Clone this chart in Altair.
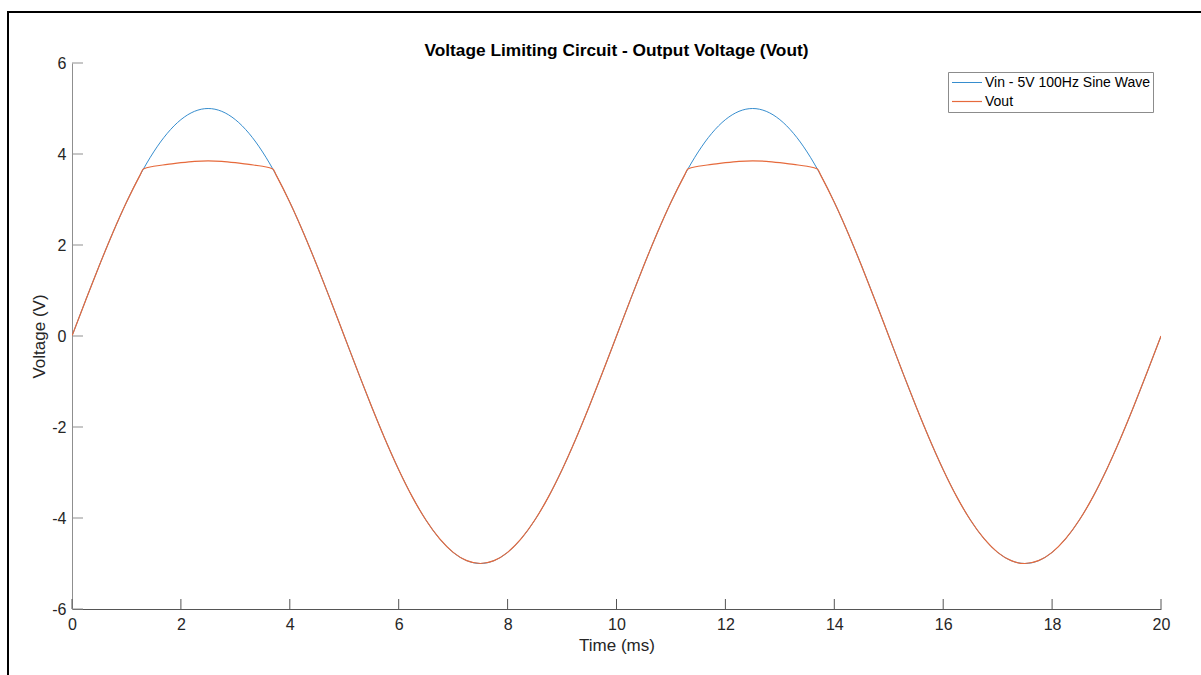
import altair as alt
import pandas as pd

# ---- data ----
vin_time = [0, 0.25, 0.5, 0.75, 1, 1.25, 1.5, 1.75, 2, 2.25, 2.5, 2.75, 3, 3.25, 3.5, 3.75,
            4, 4.25, 4.5, 4.75, 5, 5.25, 5.5, 5.75, 6, 6.25, 6.5, 6.75, 7, 7.25, 7.5, 7.75,
            8, 8.25, 8.5, 8.75, 9, 9.25, 9.5, 9.75, 10, 10.25, 10.5, 10.75, 11, 11.25, 11.5,
            11.75, 12, 12.25, 12.5, 12.75, 13, 13.25, 13.5, 13.75, 14, 14.25, 14.5, 14.75,
            15, 15.25, 15.5, 15.75, 16, 16.25, 16.5, 16.75, 17, 17.25, 17.5, 17.75, 18,
            18.25, 18.5, 18.75, 19, 19.25, 19.5, 19.75, 20]
vin_values = [0, 0.782, 1.545, 2.270, 2.939, 3.536, 4.045, 4.455, 4.755, 4.938, 5.0, 4.938,
              4.755, 4.455, 4.045, 3.536, 2.939, 2.270, 1.545, 0.782, 0, -0.782, -1.545,
              -2.270, -2.939, -3.536, -4.045, -4.455, -4.755, -4.938, -5.0, -4.938, -4.755,
              -4.455, -4.045, -3.536, -2.939, -2.270, -1.545, -0.782, 0,
              0.782, 1.545, 2.270, 2.939, 3.536, 4.045, 4.455, 4.755, 4.938, 5.0, 4.938,
              4.755, 4.455, 4.045, 3.536, 2.939, 2.270, 1.545, 0.782, 0, -0.782, -1.545,
              -2.270, -2.939, -3.536, -4.045, -4.455, -4.755, -4.938, -5.0, -4.938, -4.755,
              -4.455, -4.045, -3.536, -2.939, -2.270, -1.545, -0.782, 0]

vout_time = [0, 0.25, 0.5, 0.75, 1, 1.25, 1.31, 1.5, 1.75, 2, 2.25, 2.5, 2.75, 3, 3.25, 3.5,
             3.69, 3.75, 4, 4.25, 4.5, 4.75, 5, 5.25, 5.5, 5.75, 6, 6.25, 6.5, 6.75, 7, 7.25,
             7.5, 7.75, 8, 8.25, 8.5, 8.75, 9, 9.25, 9.5, 9.75, 10, 10.25, 10.5, 10.75, 11,
             11.25, 11.31, 11.5, 11.75, 12, 12.25, 12.5, 12.75, 13, 13.25, 13.5, 13.69, 13.75,
             14, 14.25, 14.5, 14.75, 15, 15.25, 15.5, 15.75, 16, 16.25, 16.5, 16.75, 17,
             17.25, 17.5, 17.75, 18, 18.25, 18.5, 18.75, 19, 19.25, 19.5, 19.75, 20]
vout_values = [0, 0.782, 1.545, 2.270, 2.939, 3.536, 3.67, 3.73, 3.77, 3.81, 3.84, 3.85,
               3.84, 3.81, 3.77, 3.73, 3.67, 3.536, 2.939, 2.270, 1.545, 0.782, 0, -0.782,
               -1.545, -2.270, -2.939, -3.536, -4.045, -4.455, -4.755, -4.938, -5.0, -4.938,
               -4.755, -4.455, -4.045, -3.536, -2.939, -2.270, -1.545, -0.782, 0,
               0.782, 1.545, 2.270, 2.939, 3.536, 3.67, 3.73, 3.77, 3.81, 3.84, 3.85,
               3.84, 3.81, 3.77, 3.73, 3.67, 3.536, 2.939, 2.270, 1.545, 0.782, 0, -0.782,
               -1.545, -2.270, -2.939, -3.536, -4.045, -4.455, -4.755, -4.938, -5.0, -4.938,
               -4.755, -4.455, -4.045, -3.536, -2.939, -2.270, -1.545, -0.782, 0]

series_names = ["Vin - 5V 100Hz Sine Wave", "Vout"]
series_colors = ["#1F80C8", "#E66A3C"]
x_ticks = [0, 2, 4, 6, 8, 10, 12, 14, 16, 18, 20]
y_ticks = [-6, -4, -2, 0, 2, 4, 6]

df = pd.concat([
    pd.DataFrame({"t": vin_time, "v": vin_values, "s": series_names[0], "o": 0}),
    pd.DataFrame({"t": vout_time, "v": vout_values, "s": series_names[1], "o": 1}),
], ignore_index=True)

W, H = 1089, 546
FONT = "Liberation Sans"
x_scale = alt.Scale(domain=[0, 20], nice=False, zero=False)
y_scale = alt.Scale(domain=[-6, 6], nice=False, zero=False)

x_axis = alt.Axis(values=x_ticks, labelExpr="toString(datum.value)", ticks=False,
                  tickSize=0, grid=False,
                  labelPadding=7, labelFontSize=16, labelColor="#262626",
                  labelFlush=False, labelOverlap=False, labelFont=FONT,
                  domainColor="#555555", domainWidth=1,
                  title="Time (ms)", titleFontSize=17, titleFontWeight="normal",
                  titleColor="#262626", titleFont=FONT, titlePadding=5)
y_axis = alt.Axis(values=y_ticks, labelExpr="toString(datum.value)", ticks=False,
                  tickSize=0, grid=False,
                  labelPadding=6, labelFontSize=16, labelColor="#262626",
                  labelFlush=False, labelOverlap=False, labelFont=FONT,
                  domainColor="#8f8f8f", domainWidth=1,
                  title="Voltage (V)", titleFontSize=17, titleFontWeight="normal",
                  titleColor="#262626", titleFont=FONT,
                  titleX=-24, titleY=H / 2, titleBaseline="bottom", titleAngle=270)

lines = alt.Chart(df).mark_line(clip=True, interpolate="monotone").encode(
    x=alt.X("t:Q", scale=x_scale, axis=x_axis),
    y=alt.Y("v:Q", scale=y_scale, axis=y_axis),
    color=alt.Color("s:N", scale=alt.Scale(domain=series_names, range=series_colors),
                    legend=alt.Legend(orient="none", legendX=876, legendY=9, title=None,
                                      symbolType="stroke", symbolSize=900,
                                      symbolStrokeWidth=1, clipHeight=15, rowPadding=4,
                                      padding=3, labelFontSize=14, labelOffset=2,
                                      labelLimit=400,
                                      labelFont=FONT, labelColor="#000000",
                                      strokeColor="#8c8c8c", fillColor="white")),
    strokeWidth=alt.StrokeWidth("s:N", scale=alt.Scale(domain=series_names, range=[0.9, 1.2]),
                                legend=None),
    order=alt.Order("o:Q"),
    detail="s:N",
)

ytick_df = pd.DataFrame({"v": y_ticks})
xtick_df = pd.DataFrame({"t": x_ticks})

yticks = alt.Chart(ytick_df).mark_rule(color="#8f8f8f", strokeWidth=1).encode(
    y=alt.Y("v:Q", scale=y_scale, axis=y_axis),
    x=alt.value(0), x2=alt.value(11),
)
xticks = alt.Chart(xtick_df).mark_rule(color="#555555", strokeWidth=1).encode(
    x=alt.X("t:Q", scale=x_scale, axis=x_axis),
    y=alt.value(H), y2=alt.value(H - 10),
)

frame = alt.Chart(pd.DataFrame({"a": [0]})).mark_rect(
    fillOpacity=0, stroke="black", strokeWidth=2
).encode(
    x=alt.value(-64), x2=alt.value(1300), y=alt.value(-51), y2=alt.value(800),
)

chart = alt.layer(lines, xticks, yticks, frame).properties(
    width=W, height=H,
    title=alt.TitleParams("Voltage Limiting Circuit - Output Voltage (Vout)",
                          fontSize=17.3, fontWeight="bold", font=FONT, color="#000000",
                          anchor="middle", baseline="alphabetic", offset=7, dy=69,
                          frame="group"),
    autosize=alt.AutoSizeParams(type="none"),
    padding={"left": 72, "top": 63, "right": 40, "bottom": 66},
    background="white",
).configure(font=FONT, view=alt.ViewConfig(stroke=None))

chart.save("out.html", embed_options={"renderer": "svg", "actions": False})
